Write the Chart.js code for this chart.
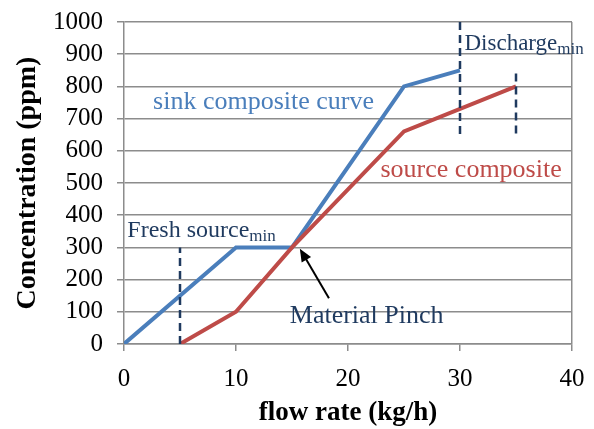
<!DOCTYPE html>
<html>
<head>
<meta charset="utf-8">
<script src="https://cdn.jsdelivr.net/npm/chart.js@4"></script>
<style>
  html, body { margin: 0; padding: 0; background: #fff; }
  #wrap { width: 594px; height: 429px; }
</style>
</head>
<body>
<div id="wrap"><canvas id="pinchChart"></canvas></div>
<script>
// composite curves (flow rate kg/h vs concentration ppm)
const sinkFlow = [0, 10, 15, 25, 30];
const sinkConc = [0, 300, 300, 800, 850];
const sourceFlow = [5, 10, 15, 25, 35];
const sourceConc = [0, 100, 300, 660, 800];

// dashed markers
const freshFlow = [5, 5];
const freshConc = [0, 300];
const dischargeFlow = [30, 30];
const dischargeConc = [1000, 650];
const sourceEndFlow = [35, 35];
const sourceEndConc = [840, 650];

const xTicks = [0, 10, 20, 30, 40];
const yTicks = [0, 100, 200, 300, 400, 500, 600, 700, 800, 900, 1000];

const serif = '"Liberation Serif", "Times New Roman", serif';
const blue = '#4a7ebb';
const red = '#be4b48';
const navy = '#1f3a5f';
const gridGray = '#8c8c8c';

function toPoints(xs, ys) {
    return xs.map((x, i) => ({ x: x, y: ys[i] }));
}

function dashed(xs, ys) {
    return {
        data: toPoints(xs, ys),
        showLine: true,
        borderColor: navy,
        borderWidth: 2.5,
        borderDash: [8, 5],
        pointRadius: 0,
        order: 0
    };
}

// labels and the pinch arrow, positioned in data units
const notes = {
    id: 'notes',
    afterDatasetsDraw(chart) {
        const { ctx, scales: { x, y } } = chart;
        const px = v => x.getPixelForValue(v);
        const py = v => y.getPixelForValue(v);

        ctx.save();
        ctx.textBaseline = 'alphabetic';
        ctx.textAlign = 'left';

        const label = (text, sub, fx, fy, color, size) => {
            ctx.fillStyle = color;
            ctx.font = size + 'px ' + serif;
            ctx.fillText(text, px(fx), py(fy));
            if (sub) {
                const w = ctx.measureText(text).width;
                ctx.font = '17px ' + serif;
                ctx.fillText(sub, px(fx) + w, py(fy) + 4);
            }
        };

        label('sink composite curve', null, 2.6, 730, blue, 26);
        label('source composite', null, 22.9, 519, red, 26);
        label('Discharge', 'min', 30.4, 913, navy, 23);
        label('Fresh source', 'min', 0.3, 332, navy, 24);
        label('Material Pinch', null, 14.8, 65, navy, 26);

        // arrow to the pinch point
        const x0 = px(18.3), y0 = py(142);
        const x1 = px(15.7), y1 = py(296);
        const ang = Math.atan2(y1 - y0, x1 - x0);
        const head = 14;
        ctx.strokeStyle = '#000';
        ctx.fillStyle = '#000';
        ctx.lineWidth = 2;
        ctx.beginPath();
        ctx.moveTo(x0, y0);
        ctx.lineTo(x1 - Math.cos(ang) * head * 0.8, y1 - Math.sin(ang) * head * 0.8);
        ctx.stroke();
        ctx.beginPath();
        ctx.moveTo(x1, y1);
        ctx.lineTo(x1 - head * Math.cos(ang - 0.4), y1 - head * Math.sin(ang - 0.4));
        ctx.lineTo(x1 - head * Math.cos(ang + 0.4), y1 - head * Math.sin(ang + 0.4));
        ctx.closePath();
        ctx.fill();
        ctx.restore();
    }
};

const chart = new Chart(document.getElementById('pinchChart'), {
    type: 'scatter',
    data: {
        datasets: [
            {
                data: toPoints(sinkFlow, sinkConc),
                showLine: true,
                borderColor: blue,
                borderWidth: 4,
                pointRadius: 0,
                order: 2
            },
            {
                data: toPoints(sourceFlow, sourceConc),
                showLine: true,
                borderColor: red,
                borderWidth: 4,
                pointRadius: 0,
                order: 1
            },
            dashed(freshFlow, freshConc),
            dashed(dischargeFlow, dischargeConc),
            dashed(sourceEndFlow, sourceEndConc)
        ]
    },
    options: {
        responsive: true,
        maintainAspectRatio: false,
        animation: false,
        layout: { padding: { top: 22, right: 22, left: 0, bottom: 0 } },
        plugins: {
            legend: { display: false },
            tooltip: { enabled: false }
        },
        scales: {
            x: {
                type: 'linear',
                min: 0,
                max: 40,
                afterBuildTicks: s => { s.ticks = xTicks.map(v => ({ value: v })); },
                afterFit: s => {
                    s.height = 85;
                    s.paddingLeft = 0;
                    s.paddingRight = 0;
                },
                grid: {
                    color: c => (c.tick && c.tick.value === 40) ? gridGray : 'rgba(0,0,0,0)',
                    tickColor: gridGray,
                    tickLength: 7,
                    lineWidth: 1.5
                },
                border: { color: gridGray, width: 1.5 },
                ticks: {
                    color: '#000',
                    padding: 13,
                    autoSkip: false,
                    maxRotation: 0,
                    callback: v => String(v),
                    font: { family: serif, size: 25 }
                },
                title: {
                    display: true,
                    text: 'flow rate (kg/h)',
                    color: '#000',
                    font: { family: serif, size: 27, weight: 'bold' },
                    padding: { top: 4, bottom: 0 }
                }
            },
            y: {
                min: 0,
                max: 1000,
                afterBuildTicks: s => { s.ticks = yTicks.map(v => ({ value: v })); },
                afterFit: s => {
                    s.width = 124;
                    s.paddingTop = 0;
                    s.paddingBottom = 0;
                },
                grid: {
                    color: gridGray,
                    tickColor: gridGray,
                    tickLength: 7,
                    lineWidth: 1.5
                },
                border: { color: gridGray, width: 1.5 },
                ticks: {
                    color: '#000',
                    padding: 14,
                    autoSkip: false,
                    callback: v => String(v),
                    font: { family: serif, size: 25 }
                },
                title: {
                    display: true,
                    text: 'Concentration (ppm)',
                    color: '#000',
                    font: { family: serif, size: 28, weight: 'bold' },
                    padding: { top: 11, bottom: 4 }
                }
            }
        }
    },
    plugins: [notes]
});
</script>
</body>
</html>
